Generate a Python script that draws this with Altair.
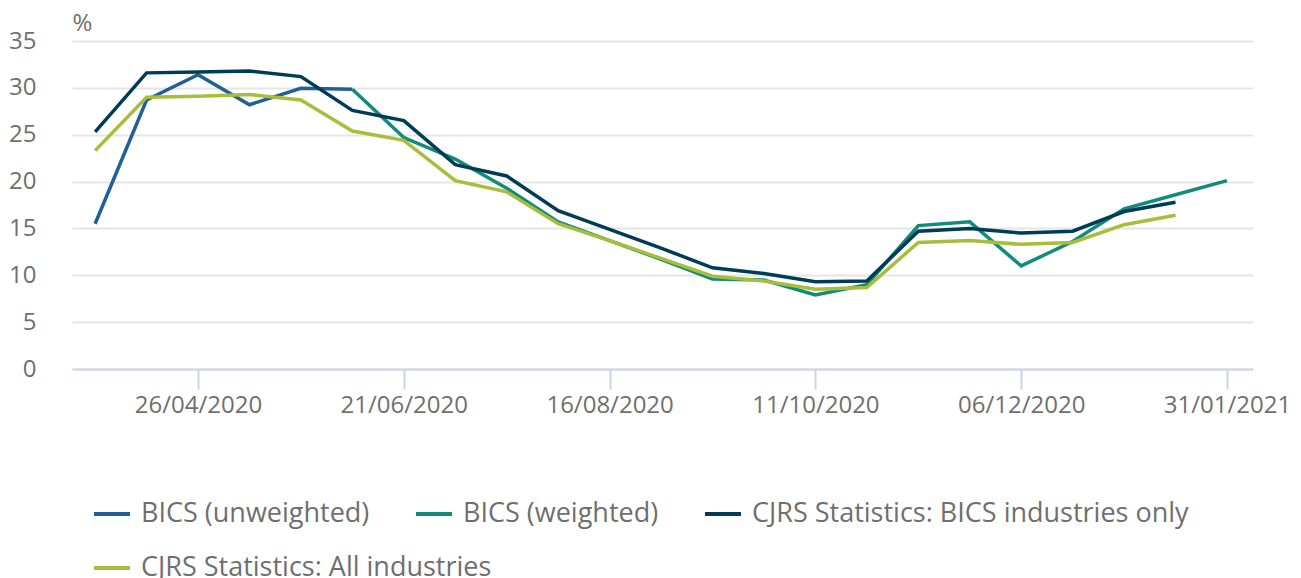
import altair as alt
import pandas as pd

dates = ["2020-03-29", "2020-04-12", "2020-04-26", "2020-05-10", "2020-05-24", "2020-06-07",
         "2020-06-21", "2020-07-05", "2020-07-19", "2020-08-02", "2020-08-16", "2020-08-30",
         "2020-09-13", "2020-09-27", "2020-10-11", "2020-10-25", "2020-11-08", "2020-11-22",
         "2020-12-06", "2020-12-20", "2021-01-03", "2021-01-17", "2021-01-31"]

series_names = ["BICS (unweighted)", "BICS (weighted)",
                "CJRS Statistics: BICS industries only", "CJRS Statistics: All industries"]
series_colors = ["#206095", "#118C7B", "#003C57", "#A8BD3A"]

bics_unweighted = [15.5, 28.7, 31.4, 28.2, 29.95, 29.85] + [None] * 17
bics_weighted = [None] * 5 + [29.85, 24.7, 22.4, 19.3, 15.7, 13.7, 11.7, 9.6, 9.5, 7.9, 9.0,
                              15.3, 15.7, 11.0, 13.6, 17.1, 18.6, 20.1]
cjrs_bics = [25.3, 31.6, 31.7, 31.8, 31.2, 27.6, 26.5, 21.8, 20.6, 16.9, 14.9, 12.9, 10.8,
             10.2, 9.3, 9.4, 14.7, 15.0, 14.5, 14.7, 16.8, 17.8, None]
cjrs_all = [23.3, 29.0, 29.1, 29.3, 28.7, 25.4, 24.4, 20.1, 18.9, 15.5, 13.7, 11.8, 9.9,
            9.4, 8.5, 8.7, 13.5, 13.7, 13.3, 13.5, 15.4, 16.4, None]

y_ticks = [0, 5, 10, 15, 20, 25, 30, 35]
x_tick_dates = [(2020, 4, 26), (2020, 6, 21), (2020, 8, 16), (2020, 10, 11), (2020, 12, 6), (2021, 1, 31)]

rows = []
for name, vals in zip(series_names, [bics_unweighted, bics_weighted, cjrs_bics, cjrs_all]):
    for i, (d, v) in enumerate(zip(dates, vals)):
        if v is not None:
            rows.append({"date": d, "value": v, "series": name, "order": i})
df = pd.DataFrame(rows)

font = "Open Sans"
text_color = "#6f6f6f"

x_enc = alt.X("date:T",
              scale=alt.Scale(type="utc",
                              domain=[alt.DateTime(year=2020, month=3, date=22, hours=17, utc=True),
                                      alt.DateTime(year=2021, month=2, date=7, hours=2, utc=True)]),
              axis=alt.Axis(values=[alt.DateTime(year=y, month=m, date=d, utc=True) for y, m, d in x_tick_dates],
                            format="%d/%m/%Y", title=None, grid=False,
                            domainColor="#cbd5e8", domainWidth=2,
                            tickColor="#cbd5e8", tickWidth=2, tickSize=20,
                            labelPadding=4, labelFontSize=24, labelFont=font, labelColor=text_color))
y_enc = alt.Y("value:Q",
              scale=alt.Scale(domain=[0, 35], nice=False),
              axis=alt.Axis(values=y_ticks, title="%", titleAngle=0, titleX=0, titleY=-11,
                            titleAlign="left", titleBaseline="alphabetic",
                            titleFont=font, titleFontSize=24, titleFontWeight="normal", titleColor=text_color,
                            domain=False, ticks=False, labelPadding=36,
                            labelFontSize=24, labelFont=font, labelColor=text_color,
                            gridColor="#e5e5e5", gridWidth=2))

legend_common = dict(title=None, orient="none", direction="horizontal", symbolType="stroke",
                     symbolSize=1296, symbolStrokeWidth=4, columnPadding=38,
                     labelFont=font, labelFontSize=27, labelColor=text_color,
                     labelOffset=9, labelLimit=700)

base = alt.Chart(df)

lines_a = base.transform_filter(
    alt.FieldOneOfPredicate(field="series", oneOf=series_names[:3])
).mark_line(strokeWidth=3.5).encode(
    x=x_enc, y=y_enc,
    color=alt.Color("series:N",
                    scale=alt.Scale(domain=series_names[:3], range=series_colors[:3]),
                    legend=alt.Legend(legendX=20, legendY=453, columns=3, **legend_common)),
    order=alt.Order("order:Q"),
)

lines_b = base.transform_filter(
    alt.FieldOneOfPredicate(field="series", oneOf=series_names[3:])
).mark_line(strokeWidth=3.5).encode(
    x=x_enc, y=y_enc,
    color=alt.Color("series:N",
                    scale=alt.Scale(domain=series_names[3:], range=series_colors[3:]),
                    legend=alt.Legend(legendX=20, legendY=507, columns=1, **legend_common)),
    order=alt.Order("order:Q"),
)

chart = alt.layer(lines_a, lines_b).resolve_scale(color="independent").properties(
    width=1181, height=328,
    autosize=alt.AutoSizeParams(type="none"),
    padding={"left": 64, "top": 33, "right": 40, "bottom": 209},
).configure_view(stroke=None)

chart.save("out.html", embed_options={"renderer": "svg", "actions": False})
